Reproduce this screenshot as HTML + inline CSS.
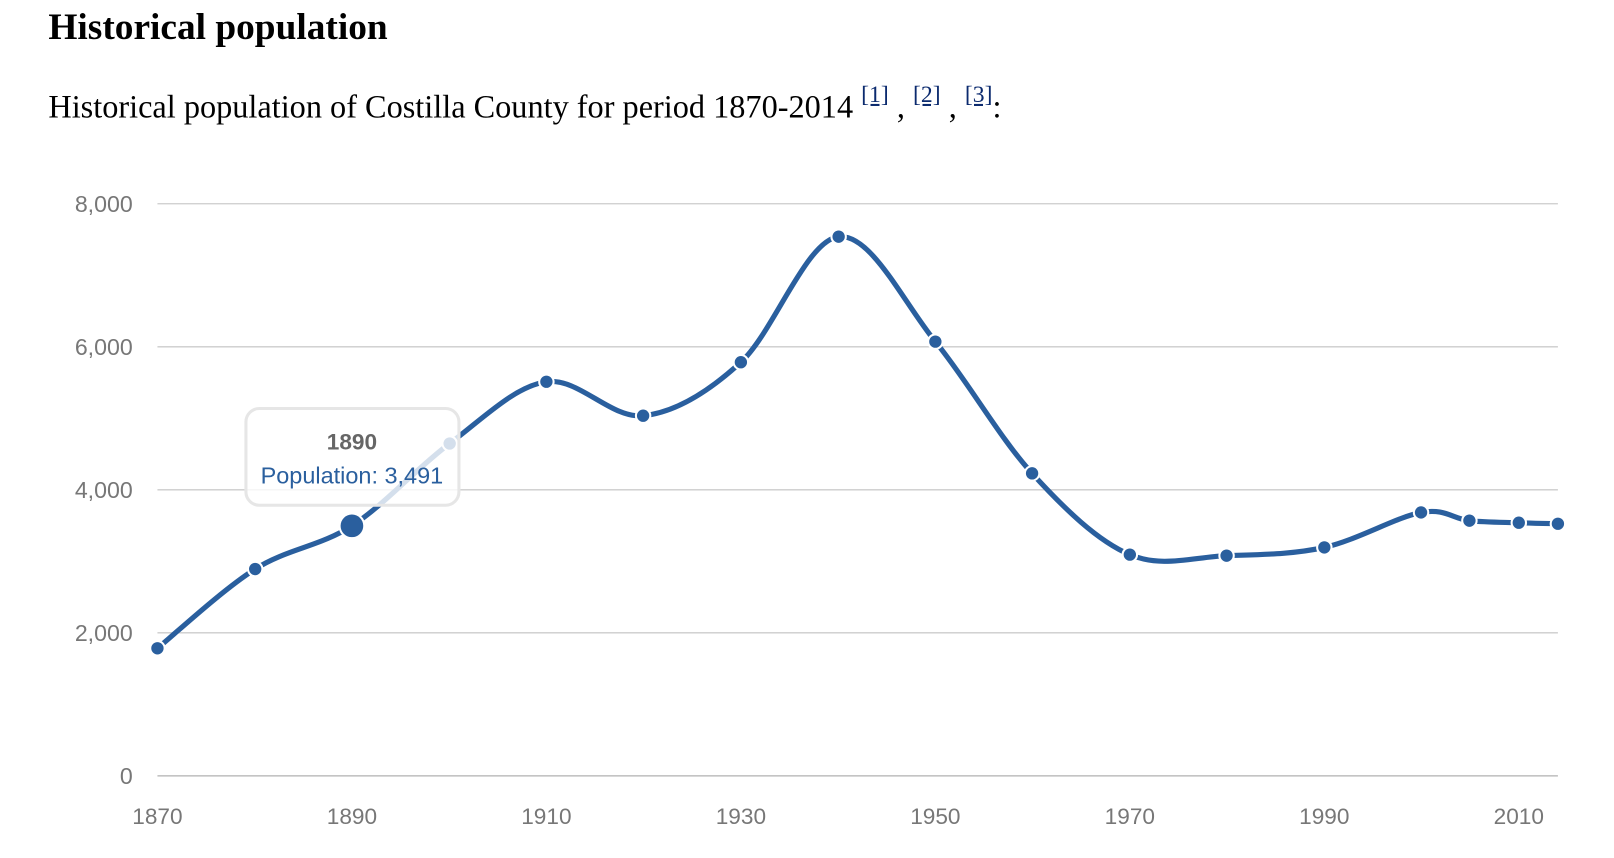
<!DOCTYPE html>
<html><head><meta charset="utf-8"><style>
html,body{margin:0;padding:0;background:#fff;width:1614px;height:858px;overflow:hidden}
#w{position:absolute;left:0;top:0;width:1570px;height:834px;transform:scale(1.029);transform-origin:0 0}
h2{position:absolute;left:47px;top:5px;margin:0;font:bold 36.3px "Liberation Serif",serif;color:#000;white-space:nowrap}
p{position:absolute;left:47px;top:86px;margin:0;font:31.4px "Liberation Serif",serif;color:#000;white-space:nowrap}
sup{font-size:23px;color:#0b2a6e;text-decoration:underline;vertical-align:top;position:relative;top:-7px}
svg{position:absolute;left:0;top:0}
svg text{font-family:"Liberation Sans",sans-serif}
</style></head><body><div id="w">
<h2>Historical population</h2>
<p>Historical population of Costilla County for period 1870-2014 <sup>[1]</sup> , <sup>[2]</sup> , <sup>[3]</sup>:</p>
<svg width="1570" height="834" id="s">
<g stroke="#cccccc" stroke-width="1.3">
<line x1="153" x2="1514" y1="198" y2="198"/><line x1="153" x2="1514" y1="337" y2="337"/>
<line x1="153" x2="1514" y1="476" y2="476"/><line x1="153" x2="1514" y1="615" y2="615"/>
<line x1="153" x2="1514" y1="754" y2="754" stroke="#b0b0b0"/>
</g>
<g fill="#777" font-size="22.5" text-anchor="end">
<text x="129" y="206">8,000</text><text x="129" y="345">6,000</text><text x="129" y="484">4,000</text>
<text x="129" y="623">2,000</text><text x="129" y="762">0</text>
</g>
<g fill="#777" font-size="22" text-anchor="middle">
<text x="153" y="801">1870</text><text x="342" y="801">1890</text><text x="531" y="801">1910</text>
<text x="720" y="801">1930</text><text x="909" y="801">1950</text><text x="1098" y="801">1970</text>
<text x="1287" y="801">1990</text><text x="1476" y="801">2010</text>
</g>
<path id="ln" fill="none" stroke="#2a5f9e" stroke-width="5" stroke-linejoin="round"/>
<g id="dots" fill="#2a5f9e" stroke="#fff" stroke-width="2"></g>
<rect x="239" y="397" width="207" height="94" rx="13" fill="rgba(255,255,255,0.8)" stroke="#e6e6e6" stroke-width="3"/>
<text x="342" y="437" text-anchor="middle" font-size="22" font-weight="bold" fill="#666">1890</text>
<text x="342" y="470" text-anchor="middle" font-size="22.8" fill="#2a5f9e">Population: 3,491</text>
</svg></div>
<script>
var P=[[153,630],[248,553],[342,511],[437,431],[531,371],[625,404],[720,352],[815,230],[909,332],[1003,460],[1098,539],[1192,540],[1287,532],[1381,498],[1428,506],[1476,508],[1514,509]];
var d="M"+P[0][0]+","+P[0][1];
for(var i=0;i<P.length-1;i++){var p0=P[Math.max(0,i-1)],p1=P[i],p2=P[i+1],p3=P[Math.min(P.length-1,i+2)];
var t=1/6;d+=" C"+(p1[0]+(p2[0]-p0[0])*t)+","+(p1[1]+(p2[1]-p0[1])*t)+" "+(p2[0]-(p3[0]-p1[0])*t)+","+(p2[1]-(p3[1]-p1[1])*t)+" "+p2[0]+","+p2[1];}
document.getElementById("ln").setAttribute("d",d);
var g=document.getElementById("dots"),h="";
P.forEach(function(p,i){h+='<circle cx="'+p[0]+'" cy="'+p[1]+'" r="'+(i==2?12:7)+'"/>';});
g.innerHTML=h;
</script>
</body></html>
